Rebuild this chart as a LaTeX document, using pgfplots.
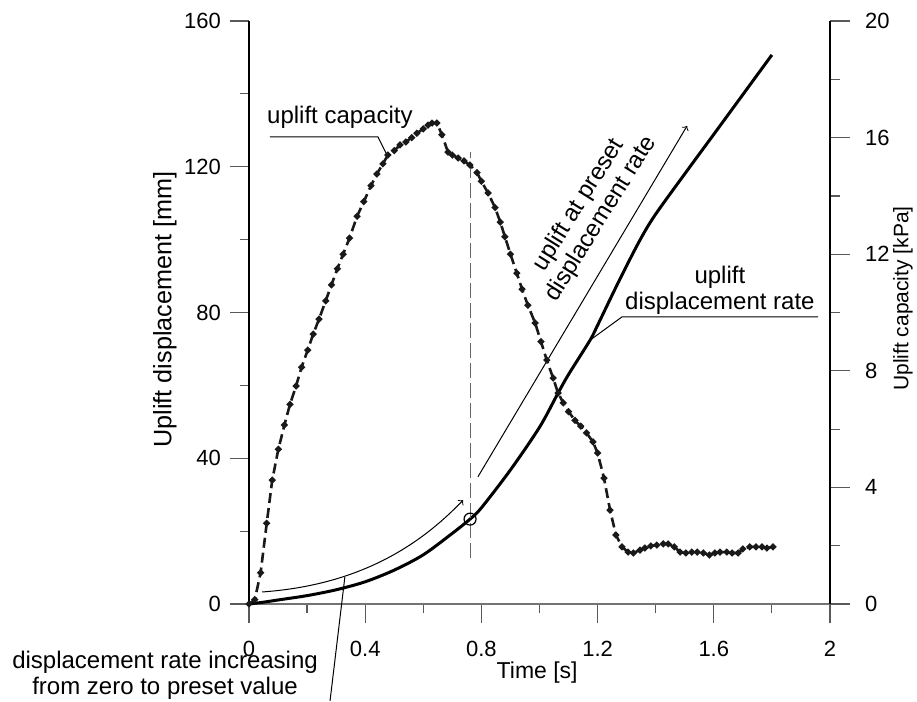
\documentclass[border=0pt]{standalone}
\usepackage{fontspec}
\setmainfont{Liberation Sans}
\usepackage{pgfplots}
\pgfplotsset{compat=1.18}
\newcommand{\annfont}{\fontsize{12}{13}\selectfont}
\begin{document}
\begin{tikzpicture}
\begin{axis}[
  scale only axis, width=290.5pt, height=291.5pt,
  xmin=0, xmax=2, ymin=0, ymax=160,
  axis x line=bottom, axis y line=left,
  axis line style={-},
  x axis line style={black!55, line width=0.6pt},
  y axis line style={black, line width=0.6pt},
  xtick={0,0.4,0.8,1.2,1.6,2},
  minor xtick={0.2,0.6,1,1.4,1.8},
  ytick={0,40,80,120,160},
  minor ytick={20,60,100,140},
  tick align=outside,
  major tick length=9.5pt, minor tick length=4.5pt,
  every tick/.style={black!65, line width=0.6pt},
  ticklabel style={font=\fontsize{11}{12}\selectfont},
  xticklabel style={yshift=-5.5pt},
  yticklabel style={xshift=-1pt},
  /pgf/number format/assume math mode=true,
  clip=false,
]
\addplot[black, line width=1.5pt, smooth] coordinates {
(0,0) (0.05,0.5) (0.1,1.1) (0.2,2.3) (0.3,3.9) (0.4,6.1) (0.5,9.3) (0.6,13.5)
(0.7,19.4) (0.761,23.3) (0.8,26.4) (0.9,36.8) (1.0,48.5) (1.064,57.9) (1.1,63.0)
(1.174,72.4) (1.2,76.5) (1.277,89.2) (1.346,99.9) (1.4,107.0) (1.518,120.0)
(1.6,128.9) (1.7,139.8) (1.8,150.7)};
\addplot[only marks, mark=o, mark size=3pt, mark options={line width=0.6pt}] coordinates {(0.761,23.3)};

% axis labels
\node[anchor=center, font=\fontsize{11.5}{13}\selectfont] at (axis description cs:0.496,-0.117) {Time [s]};
\node[anchor=center, rotate=90, font=\fontsize{12.6}{14}\selectfont] at (axis description cs:-0.145,0.505) {Uplift displacement [mm]};

% annotations
\node[font=\annfont] at (axis cs:0.313,133.6) {uplift capacity};
\draw[line width=0.5pt] (axis cs:0.072,128.2) -- (axis cs:0.444,128.2) -- (axis cs:0.475,123.2);
\draw[black!60, line width=0.7pt, dash pattern=on 7.5pt off 2.5pt] (axis cs:0.762,12.6) -- (axis cs:0.762,124);
\draw[->, line width=0.5pt] (axis cs:0.788,34.9) -- (axis cs:1.508,131.2);
\node[rotate=58, align=center, font=\annfont] at (axis cs:1.174,107.6) {uplift at preset\\displacement rate};
\node[align=center, font=\annfont] at (axis cs:1.621,86.2) {uplift\\displacement rate};
\draw[line width=0.5pt] (axis cs:1.959,78.8) -- (axis cs:1.284,78.8) -- (axis cs:1.174,72.4);
\draw[->, line width=0.5pt] (axis cs:0.045,3.3) .. controls (axis cs:0.382,5.2) and (axis cs:0.589,16.2) .. (axis cs:0.737,28.5);
\draw[line width=0.5pt] (axis cs:0.330,7.4) -- (axis cs:0.279,-26.6);
\node[align=center, font=\annfont] at (axis cs:-0.289,-19.5) {displacement rate increasing\\from zero to preset value};
\end{axis}

\begin{axis}[
  scale only axis, width=290.5pt, height=291.5pt,
  xmin=0, xmax=2, ymin=0, ymax=20,
  axis y line=right, axis x line=none,
  axis line style={-},
  y axis line style={black, line width=0.6pt},
  ytick={0,4,8,12,16,20}, minor ytick={2,6,10,14,18},
  tick align=outside,
  major tick length=10pt, minor tick length=5pt,
  every tick/.style={black!65, line width=0.6pt},
  ticklabel style={font=\fontsize{11}{12}\selectfont},
  yticklabel style={xshift=4pt},
  /pgf/number format/assume math mode=true,
  clip=false,
]
\addplot[black!90, line width=1.3pt, dash pattern=on 5pt off 2.5pt, mark=*, mark size=0.95pt, mark options={solid}] coordinates {
(0,0) (0.02,0.15) (0.040,1.07) (0.061,2.77) (0.080,4.25) (0.101,5.31) (0.122,6.14)
(0.141,6.85) (0.162,7.48) (0.181,8.12) (0.202,8.71) (0.221,9.26) (0.241,9.77)
(0.264,10.40) (0.284,10.95) (0.304,11.5) (0.324,12.0) (0.346,12.55) (0.372,13.3)
(0.395,13.8) (0.42,14.35) (0.44,14.75) (0.461,15.1) (0.478,15.4) (0.50,15.55)
(0.52,15.75) (0.54,15.85) (0.56,16.0) (0.578,16.15) (0.60,16.3) (0.616,16.43)
(0.63,16.5) (0.647,16.5) (0.664,16.1) (0.685,15.5) (0.70,15.4) (0.72,15.3)
(0.74,15.2) (0.76,15.06) (0.785,14.8) (0.80,14.5) (0.823,14.1) (0.847,13.6)
(0.865,13.1) (0.881,12.6) (0.90,12.0) (0.922,11.35) (0.94,10.8) (0.96,10.25)
(0.985,9.64) (1.005,9.0) (1.025,8.37) (1.047,7.75) (1.064,7.24) (1.082,6.9)
(1.10,6.6) (1.122,6.3) (1.142,6.1) (1.162,5.87) (1.184,5.56) (1.20,5.18)
(1.222,4.32) (1.243,3.22) (1.263,2.37) (1.284,1.96) (1.305,1.78) (1.323,1.75)
(1.346,1.85) (1.363,1.92) (1.383,1.99) (1.404,2.02) (1.426,2.06) (1.443,2.06)
(1.464,1.96) (1.484,1.78) (1.504,1.75) (1.524,1.78) (1.543,1.78) (1.564,1.75)
(1.585,1.68) (1.604,1.75) (1.621,1.78) (1.645,1.78) (1.663,1.75) (1.684,1.75)
(1.70,1.89) (1.724,1.96) (1.745,1.96) (1.766,1.96) (1.783,1.92) (1.804,1.96)};
\end{axis}
\node[anchor=center, rotate=90, font=\fontsize{10.5}{12}\selectfont] at ([xshift=36.5pt, yshift=7pt]current axis.east) {Uplift capacity [kPa]};
\pgfresetboundingbox
\path ([shift={(-124.5pt,-49pt)}]current axis.south west) rectangle ([shift={(43.5pt,10.5pt)}]current axis.north east);
\end{tikzpicture}
\end{document}
